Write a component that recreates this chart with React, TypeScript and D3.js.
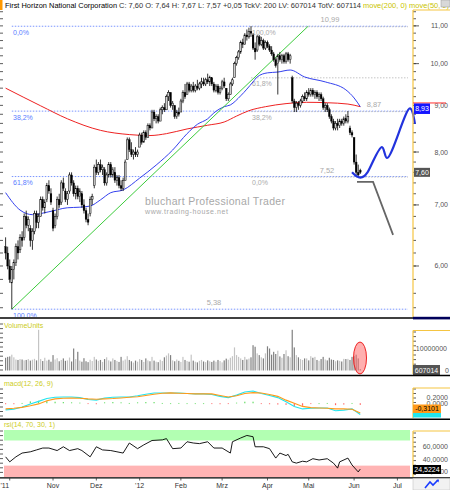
import React from 'react';
import * as d3 from 'd3';

// ---------------- data ----------------
const TITLE_NAME = 'First Horizon National Corporation';
const TITLE_QUOTE = 'C: 7,60 O: 7,64 H: 7,67 L: 7,57 +0,05 TckV: 200 LV: 607014 TotV: 607114';
const TITLE_STUDIES = 'move(200, 0) move(50, 0)';

const HOLIDAYS = ['2011-11-24', '2011-12-26', '2012-01-02', '2012-01-16', '2012-02-20', '2012-04-06', '2012-05-28', '2012-07-04'];
const MONTH_TICKS = ['2011-10', '2011-11', '2011-12', '2012-01', '2012-02', '2012-03', '2012-04', '2012-05', '2012-06', '2012-07'];
const MONTH_LABELS = ["'11", 'Nov', 'Dez', "'12", 'Feb', 'Mrz', 'Apr', 'Mai', 'Jun', 'Jul'];

const opens = [
  6.30, 6.20, 6.00, 5.75, 5.95, 6.05, 6.30, 6.25, 6.45, 6.45,
  6.80, 6.65, 6.60, 6.40, 6.55, 6.85, 6.70, 6.80, 7.10, 6.95,
  7.10, 7.35, 7.20, 6.90, 6.65, 6.80, 7.10, 7.05, 7.40, 7.25,
  7.10, 7.25, 7.55, 7.40, 7.20, 7.30, 7.15, 7.20, 7.00, 6.90,
  6.75, 6.85, 7.10, 7.35, 7.70, 7.60, 7.75, 7.65, 7.65, 7.40,
  7.55, 7.75, 7.55, 7.60, 7.45, 7.50, 7.35, 7.30, 7.45, 7.85,
  8.25, 8.05, 7.95, 8.00, 7.95, 8.10, 8.35, 8.20, 8.40, 8.30,
  8.55, 8.50, 8.85, 8.70, 8.75, 8.65, 8.90, 8.95, 8.90, 9.20,
  9.30, 9.00, 9.00, 8.75, 8.85, 8.85, 9.10, 9.30, 9.25, 9.50,
  9.35, 9.45, 9.35, 9.45, 9.40, 9.50, 9.55, 9.50, 9.60, 9.55,
  9.65, 9.50, 9.35, 9.45, 9.30, 9.40, 9.55, 9.40, 9.15, 9.25,
  9.50, 9.65, 10.00, 10.15, 10.30, 10.55, 10.50, 10.75, 10.70, 10.85,
  10.75, 10.40, 10.35, 10.70, 10.50, 10.60, 10.40, 10.55, 10.45, 10.35,
  10.25, 10.10, 10.00, 10.20, 10.10, 10.20, 10.05, 10.25, 10.10, 9.65,
  9.10, 8.95, 9.05, 9.00, 9.10, 9.20, 9.15, 9.30, 9.25, 9.35,
  9.25, 9.30, 9.20, 9.25, 9.15, 8.95, 9.00, 8.90, 8.75, 8.65,
  8.50, 8.60, 8.55, 8.65, 8.60, 8.70, 8.65, 8.50, 8.40, 8.30,
  7.80, 7.60, 7.64,
];
const highs = [
  6.45, 6.30, 6.10, 6.00, 6.10, 6.35, 6.40, 6.50, 6.55, 6.85,
  6.90, 6.80, 6.65, 6.60, 6.90, 6.90, 6.85, 7.15, 7.15, 7.10,
  7.40, 7.45, 7.30, 6.95, 6.85, 7.15, 7.20, 7.45, 7.50, 7.30,
  7.25, 7.60, 7.60, 7.45, 7.35, 7.35, 7.30, 7.25, 7.10, 6.95,
  6.85, 7.15, 7.20, 7.75, 7.85, 7.80, 7.85, 7.75, 7.70, 7.60,
  7.80, 7.80, 7.70, 7.70, 7.55, 7.55, 7.45, 7.50, 7.85, 8.30,
  8.30, 8.20, 8.05, 8.10, 8.05, 8.40, 8.40, 8.45, 8.45, 8.60,
  8.60, 8.90, 8.90, 8.80, 8.80, 8.95, 9.00, 9.05, 9.25, 9.35,
  9.30, 9.10, 9.00, 8.90, 8.95, 9.15, 9.35, 9.50, 9.55, 9.55,
  9.50, 9.55, 9.50, 9.60, 9.55, 9.65, 9.65, 9.65, 9.75, 9.70,
  9.65, 9.55, 9.50, 9.50, 9.45, 9.60, 9.65, 9.40, 9.30, 9.55,
  9.65, 10.05, 10.20, 10.35, 10.60, 10.65, 10.80, 10.90, 10.95, 10.99,
  10.80, 10.55, 10.75, 10.75, 10.70, 10.65, 10.60, 10.60, 10.50, 10.45,
  10.30, 10.15, 10.25, 10.30, 10.25, 10.25, 10.30, 10.30, 10.25, 9.70,
  9.15, 9.10, 9.10, 9.15, 9.25, 9.30, 9.35, 9.40, 9.40, 9.40,
  9.35, 9.35, 9.30, 9.30, 9.20, 9.05, 9.05, 8.95, 8.80, 8.70,
  8.65, 8.70, 8.70, 8.70, 8.75, 8.80, 8.87, 8.55, 8.45, 8.30,
  7.95, 7.75, 7.67,
];
const lows = [
  6.10, 5.95, 5.75, 5.38, 5.80, 6.00, 6.10, 6.20, 6.30, 6.40,
  6.60, 6.55, 6.30, 6.25, 6.50, 6.60, 6.60, 6.80, 6.90, 6.85,
  7.05, 7.20, 7.00, 6.55, 6.60, 6.75, 6.95, 7.00, 7.25, 7.05,
  7.00, 7.20, 7.35, 7.15, 7.10, 7.10, 7.05, 6.95, 6.85, 6.70,
  6.65, 6.80, 7.00, 7.30, 7.55, 7.55, 7.60, 7.55, 7.35, 7.35,
  7.50, 7.50, 7.50, 7.40, 7.35, 7.30, 7.25, 7.25, 7.45, 7.85,
  8.00, 7.90, 7.85, 7.90, 7.90, 8.10, 8.15, 8.20, 8.25, 8.30,
  8.45, 8.50, 8.65, 8.60, 8.60, 8.65, 8.80, 8.85, 8.90, 9.10,
  8.95, 8.90, 8.70, 8.70, 8.75, 8.85, 9.05, 9.15, 9.25, 9.30,
  9.30, 9.30, 9.30, 9.35, 9.35, 9.40, 9.45, 9.45, 9.50, 9.45,
  9.45, 9.30, 9.30, 9.25, 9.25, 9.35, 9.40, 9.10, 9.10, 9.25,
  9.45, 9.65, 9.95, 10.10, 10.25, 10.40, 10.50, 10.60, 10.65, 10.70,
  10.35, 10.10, 10.30, 10.45, 10.45, 10.35, 10.35, 10.40, 10.30, 10.20,
  10.05, 9.90, 9.25, 10.05, 10.00, 10.00, 10.00, 10.05, 10.00, 9.05,
  8.85, 8.85, 8.90, 8.95, 9.05, 9.10, 9.10, 9.20, 9.20, 9.20,
  9.15, 9.15, 9.10, 9.10, 8.90, 8.85, 8.85, 8.70, 8.60, 8.45,
  8.45, 8.45, 8.50, 8.55, 8.55, 8.60, 8.60, 8.35, 8.30, 7.75,
  7.55, 7.52, 7.57,
];
const closes = [
  6.20, 6.00, 5.80, 5.95, 6.05, 6.30, 6.20, 6.45, 6.40, 6.80,
  6.65, 6.75, 6.40, 6.55, 6.85, 6.70, 6.80, 7.10, 6.95, 7.05,
  7.35, 7.25, 7.05, 6.60, 6.80, 7.10, 7.00, 7.40, 7.30, 7.10,
  7.20, 7.55, 7.40, 7.20, 7.30, 7.15, 7.25, 7.00, 6.90, 6.75,
  6.70, 7.10, 7.15, 7.70, 7.60, 7.75, 7.65, 7.70, 7.40, 7.55,
  7.75, 7.55, 7.65, 7.45, 7.50, 7.35, 7.30, 7.45, 7.80, 8.25,
  8.05, 7.95, 8.00, 7.95, 8.00, 8.35, 8.20, 8.40, 8.30, 8.55,
  8.50, 8.85, 8.70, 8.75, 8.65, 8.90, 8.95, 8.90, 9.20, 9.30,
  9.00, 9.05, 8.75, 8.85, 8.80, 9.10, 9.30, 9.20, 9.50, 9.35,
  9.45, 9.35, 9.45, 9.40, 9.50, 9.55, 9.50, 9.60, 9.55, 9.65,
  9.50, 9.35, 9.45, 9.30, 9.40, 9.55, 9.45, 9.15, 9.25, 9.50,
  9.60, 10.00, 10.15, 10.30, 10.55, 10.50, 10.75, 10.70, 10.85, 10.80,
  10.40, 10.30, 10.70, 10.50, 10.60, 10.40, 10.55, 10.45, 10.35, 10.25,
  10.10, 9.95, 10.20, 10.10, 10.20, 10.05, 10.25, 10.10, 10.20, 9.10,
  8.95, 9.05, 9.00, 9.10, 9.20, 9.15, 9.30, 9.25, 9.35, 9.25,
  9.30, 9.20, 9.25, 9.15, 8.95, 9.00, 8.90, 8.75, 8.65, 8.50,
  8.60, 8.55, 8.65, 8.60, 8.70, 8.65, 8.75, 8.40, 8.35, 7.80,
  7.60, 7.55, 7.60,
];
// volume in millions of shares
const volumes = [
  5.8, 6.2, 6.4, 7.2, 6.0, 5.0, 4.8, 5.2, 5.0, 4.6,
  4.8, 5.2, 4.5, 4.9, 5.3, 4.6, 18.5, 5.2, 4.3, 5.8,
  4.5, 4.9, 4.0, 7.0, 5.0, 5.6, 4.2, 4.8, 5.5, 4.4,
  4.6, 5.9, 4.1, 10.0, 5.2, 8.5, 4.5, 4.0, 5.6, 4.2,
  3.8, 4.9, 4.3, 6.2, 5.0, 4.4, 4.8, 3.9, 5.2, 6.0,
  4.6, 4.1, 5.5, 4.8, 4.3, 3.9, 6.2, 4.5, 5.0, 6.5,
  4.8, 4.2, 3.6, 4.5, 4.0, 5.2, 4.8, 3.9, 5.5, 4.6,
  4.2, 6.2, 4.5, 4.0, 3.8, 4.9, 4.3, 6.0, 6.8, 7.8,
  7.0, 4.6, 4.2, 5.0, 4.4, 3.9, 6.2, 4.8, 4.3, 4.0,
  7.2, 4.5, 4.0, 3.7, 4.4, 4.8, 4.1, 3.8, 4.6, 4.2,
  3.9, 4.5, 4.0, 4.8, 4.3, 3.7, 4.6, 5.4, 4.9, 5.8,
  6.5, 10.5, 7.0, 6.2, 5.5, 4.8, 6.2, 5.0, 5.4, 6.0,
  11.5, 10.8, 7.8, 7.0, 6.0, 5.5, 7.8, 11.0, 10.0, 7.2,
  8.5, 7.5, 9.0, 6.4, 5.8, 7.5, 9.2, 6.5, 6.0, 18.5,
  10.5, 7.0, 6.0, 5.2, 4.8, 5.5, 5.5, 4.6, 6.5, 5.8,
  6.2, 4.8, 4.4, 5.2, 6.2, 5.0, 4.6, 5.8, 5.0, 4.8,
  4.2, 4.6, 4.4, 4.1, 5.3, 5.2, 5.3, 4.8, 6.2, 6.5,
  7.2, 5.5, 0.607014,
];

// moving averages, read at bar positions
const ma200Bars = [0, 17, 30, 46, 60, 70, 78, 88, 98, 106, 112, 118, 126, 136, 146, 156, 166, 172];
const ma200Vals = [9.40, 8.99, 8.70, 8.45, 8.36, 8.34, 8.38, 8.48, 8.56, 8.63, 8.76, 8.88, 8.97, 9.04, 9.07, 9.06, 9.03, 8.97];
const ma50Bars = [0, 7, 13, 21, 30, 36, 41, 46, 51, 57, 65, 73, 81, 88, 93, 98, 101, 106, 109, 114, 120, 122, 127, 132, 138, 145, 155, 165, 169, 172];
const ma50Vals = [7.22, 6.91, 6.83, 6.88, 6.95, 6.96, 6.98, 7.09, 7.22, 7.27, 7.49, 7.74, 8.04, 8.38, 8.58, 8.70, 8.83, 8.97, 9.01, 9.22, 9.55, 9.67, 9.77, 9.79, 9.84, 9.67, 9.55, 9.36, 9.17, 8.97];

// trend line and Fibonacci levels
const trendBars = [3, 146.7];
const trendVals = [5.38, 10.99];
const fibBlueLabels = ['0,0%', '38,2%', '61,8%', '100,0%'];
const fibBlueVals = [10.99, 8.87, 7.52, 5.38];
const fibGrayLabels = ['100,0%', '61,8%', '38,2%', '0,0%'];
const fibGrayVals = [10.99, 9.66, 8.87, 7.52];
const fibPriceLabels = ['10,99', '8,87', '7,52', '5,38'];
const fibPriceVals = [10.99, 8.87, 7.52, 5.38];

// projection paths
const projBlueBars = [168, 170, 172, 174, 175.5, 182.5, 185, 196.1, 198.5];
const projBlueVals = [7.60, 7.53, 7.50, 7.53, 7.60, 8.10, 7.88, 8.93, 8.59];
const projGrayBars = [170.4, 178.2, 187.9];
const projGrayVals = [7.42, 7.42, 6.49];

// MACD(12,26,9)
const macdBars = [0, 4, 8, 12, 16, 20, 24, 28, 32, 36, 40, 44, 48, 52, 56, 60, 64, 68, 72, 76, 80, 84, 88, 92, 96, 100, 104, 108, 112, 116, 120, 124, 128, 132, 136, 140, 144, 148, 152, 156, 160, 164, 168, 172];
const macdVals = [-0.21, -0.19, -0.12, -0.02, 0.06, 0.15, 0.19, 0.20, 0.20, 0.18, 0.12, 0.10, 0.17, 0.19, 0.20, 0.20, 0.24, 0.29, 0.33, 0.33, 0.33, 0.33, 0.31, 0.30, 0.30, 0.28, 0.22, 0.18, 0.26, 0.36, 0.39, 0.31, 0.25, 0.18, 0.05, -0.10, -0.18, -0.16, -0.15, -0.15, -0.24, -0.22, -0.18, -0.36];
const signalVals = [-0.18, -0.16, -0.13, -0.08, -0.02, 0.08, 0.14, 0.16, 0.17, 0.16, 0.14, 0.13, 0.14, 0.15, 0.17, 0.19, 0.21, 0.25, 0.29, 0.32, 0.33, 0.32, 0.31, 0.30, 0.30, 0.30, 0.25, 0.20, 0.24, 0.31, 0.34, 0.33, 0.28, 0.22, 0.10, 0.00, -0.10, -0.14, -0.15, -0.16, -0.18, -0.18, -0.19, -0.31];

// RSI(14)
const rsiBars = [0, 2, 5, 8, 12, 15, 18, 21, 25, 28, 31, 35, 37, 41, 44, 47, 51, 54, 57, 60, 64, 67, 71, 76, 78, 81, 85, 88, 91, 94, 98, 101, 105, 109, 110, 114, 117, 120, 121, 125, 128, 131, 133, 136, 137, 139, 141, 144, 146, 149, 152, 156, 159, 161, 162, 166, 168, 171, 172];
const rsiVals = [44, 36, 44, 50, 52, 55, 58, 58, 54, 60, 54, 57, 54, 44, 60, 55, 54, 52, 50, 66, 57, 63, 70, 71, 73, 57, 58, 68, 66, 65, 68, 58, 58, 50, 68, 74, 78, 76, 60, 60, 57, 42, 50, 46, 48, 36, 34, 37, 36, 41, 39, 41, 34, 26, 36, 42, 31, 20, 24.52];

const priceTicks = [6, 7, 8, 9, 10, 11];
const priceTickLabels = ['6,00', '7,00', '8,00', '9,00', '10,00', '11,00'];
const rsiTicks = [60, 40, 20];
const rsiTickLabels = ['60,0000', '40,0000', '20,0000'];
const macdTicks = [0.2, 0];
const macdTickLabels = ['0,2000', '0,0000'];

// ---------------- layout ----------------
const FONT = '"Liberation Sans", Arial, sans-serif';
const PL = 4, PR = 412, AX = 413;
const MAIN = { top: 10, bottom: 317 };
const VOL = { top: 321, base: 370.5 };
const MACD = { top: 376, bottom: 418 };
const RSI = { top: 430, bottom: 477 };

function buildDates(n: number) {
  const out: Date[] = [];
  const d = new Date(Date.UTC(2011, 8, 29));
  while (out.length < n) {
    const wd = d.getUTCDay();
    const iso = d.toISOString().slice(0, 10);
    if (wd !== 0 && wd !== 6 && !HOLIDAYS.includes(iso)) out.push(new Date(d));
    d.setUTCDate(d.getUTCDate() + 1);
  }
  return out;
}

export default function App() {
  const dates = buildDates(200);
  const x = d3.scaleLinear().domain([0, 190]).range([5.6, 397.4]);
  const y = d3.scaleLog().domain([5.275, 11.45]).range([MAIN.bottom, MAIN.top]);
  const yVol = d3.scaleLinear().domain([0, 22.5]).range([VOL.base, VOL.top]);
  const yMacd = d3.scaleLinear().domain([-0.47, 0.87]).range([MACD.bottom, MACD.top]);
  const yRsi = d3.scaleLinear().domain([11.9, 86.7]).range([RSI.bottom, RSI.top]);

  const pts = (bars: number[], vals: number[]) => bars.map((b, i) => [b, vals[i]] as [number, number]);
  const priceLine = d3.line<[number, number]>().x(d => x(d[0])).y(d => y(d[1]));
  const smoothPrice = d3.line<[number, number]>().x(d => x(d[0])).y(d => y(d[1])).curve(d3.curveMonotoneX);
  const macdLine = d3.line<[number, number]>().x(d => x(d[0])).y(d => yMacd(d[1]));
  const rsiLine = d3.line<[number, number]>().x(d => x(d[0])).y(d => yRsi(d[1]));
  const projBlue = d3.line<[number, number]>().x(d => x(d[0])).y(d => y(d[1])).curve(d3.curveCatmullRom.alpha(0.5));

  const minorTicks = d3.range(5.4, 11.41, 0.2);
  const tickStr = '#333';

  const monthPos = MONTH_TICKS.map(m => {
    const k = dates.findIndex(d => d.toISOString().slice(0, 7) === m);
    return x(k);
  });

  const fibStartBlue = x(3);
  const fibStartGray = x(119);
  const fibEnd = 408;

  const grayLabelX = [330, 374, 327, 214];

  const dashes = (y0: number, y1: number, step: number, x0: number, x1: number, key: string) =>
    d3.range(y0, y1, step).map((v, i) => <line key={key + i} x1={x0} x2={x1} y1={v} y2={v} stroke={tickStr} strokeWidth={0.8} />);

  return (
    <svg width={450} height={490} style={{ position: 'absolute', left: 0, top: 0, background: '#fff' }} fontFamily={FONT}>
      <rect x={0} y={0} width={450} height={490} fill="#fff" />
      <defs>
        <clipPath id="mainClip"><rect x={PL} y={MAIN.top} width={PR - PL} height={MAIN.bottom - MAIN.top} /></clipPath>
      </defs>

      {/* title */}
      <rect x={0} y={0} width={2.5} height={10} fill="#ff9900" />
      <text x={5} y={7.5} fontSize={7.3} fill="#000" textLength={112} lengthAdjust="spacingAndGlyphs">{TITLE_NAME}</text>
      <text x={119} y={7.5} fontSize={7.3} fill="#333" textLength={242} lengthAdjust="spacingAndGlyphs">{TITLE_QUOTE}</text>
      <text x={363} y={7.5} fontSize={7.3} fill="#c9c400" textLength={86} lengthAdjust="spacingAndGlyphs">{TITLE_STUDIES}</text>
      <rect x={441} y={0} width={9} height={7} fill="#d8d8d8" stroke="#999" strokeWidth={0.5} />

      {/* ---------- main panel ---------- */}
      {minorTicks.map((p, i) => (
        <line key={'lt' + i} x1={0} x2={3} y1={y(p)} y2={y(p)} stroke={tickStr} strokeWidth={0.8} />
      ))}
      {minorTicks.map((p, i) => (
        <line key={'rt' + i} x1={AX} x2={416} y1={y(p)} y2={y(p)} stroke={tickStr} strokeWidth={0.8} />
      ))}
      {priceTicks.map((p, i) => (
        <g key={'pt' + i}>
          <line x1={AX} x2={419} y1={y(p)} y2={y(p)} stroke={tickStr} strokeWidth={0.8} />
          <text x={448} y={y(p) + 2.5} fontSize={7} fill="#555" textAnchor="end">{priceTickLabels[i]}</text>
        </g>
      ))}

      <g clipPath="url(#mainClip)">
        {/* watermark */}
        <text x={145} y={205} fontSize={10.5} fill="#a8a8a8" textLength={140} lengthAdjust="spacing">bluchart Professional Trader</text>
        <text x={145} y={214} fontSize={7} fill="#a8a8a8" textLength={83} lengthAdjust="spacing">www.trading-house.net</text>

        {/* fib lines */}
        {fibBlueVals.map((p, i) => (
          <line key={'fb' + i} x1={fibStartBlue} x2={fibEnd} y1={y(p)} y2={y(p)} stroke="#7a95ff" strokeWidth={1} strokeDasharray="1.5,1.5" />
        ))}
        {fibGrayVals.map((p, i) => (
          <line key={'fg' + i} x1={fibStartGray} x2={fibEnd} y1={y(p) + 0.5} y2={y(p) + 0.5} stroke="#c4c4c4" strokeWidth={1} strokeDasharray="1.5,1.5" />
        ))}
        {fibBlueVals.map((p, i) => (
          <text key={'fbl' + i} x={13} y={y(p) + 8.5} fontSize={7} fill="#5a7dff">{fibBlueLabels[i]}</text>
        ))}
        {fibGrayVals.map((p, i) => (
          <text key={'fgl' + i} x={252} y={y(p) + 8.5} fontSize={7} fill="#aaa">{fibGrayLabels[i]}</text>
        ))}
        {fibPriceVals.map((p, i) => (
          <text key={'fpl' + i} x={grayLabelX[i]} y={y(p) - 4} fontSize={7.5} fill="#aaa" textAnchor="middle">{fibPriceLabels[i]}</text>
        ))}

        {/* moving averages & trend */}
        <path d={smoothPrice(pts(ma200Bars, ma200Vals)) || ''} fill="none" stroke="#ee2222" strokeWidth={1} />
        <path d={smoothPrice(pts(ma50Bars, ma50Vals)) || ''} fill="none" stroke="#3340ee" strokeWidth={1} />
        <path d={priceLine(pts(trendBars, trendVals)) || ''} fill="none" stroke="#3ccc3c" strokeWidth={1} />

        {/* candles */}
        {closes.map((c, k) => {
          const o = opens[k];
          const up = c >= o;
          const cx = x(k);
          const yt = y(Math.max(o, c));
          const yb = y(Math.min(o, c));
          return (
            <g key={'c' + k}>
              <line x1={cx} x2={cx} y1={y(highs[k])} y2={y(lows[k])} stroke="#000" strokeWidth={0.8} />
              <rect x={cx - 0.9} y={yt} width={1.8} height={Math.max(0.8, yb - yt)} fill={up ? '#cfcfcf' : '#000'} stroke="#000" strokeWidth={up ? 0.5 : 0.3} />
            </g>
          );
        })}

        {/* projections */}
        <path d={priceLine(pts(projGrayBars, projGrayVals)) || ''} fill="none" stroke="#666" strokeWidth={1.8} />
      </g>
      <path d={projBlue(pts(projBlueBars, projBlueVals)) || ''} fill="none" stroke="#2233dd" strokeWidth={2.2} />

      {/* main axis line & boxes */}
      <line x1={AX} x2={AX} y1={MAIN.top} y2={MAIN.bottom} stroke="#f5c542" strokeWidth={1.2} />
      <line x1={AX} x2={450} y1={MAIN.top} y2={MAIN.top} stroke="#f5c542" strokeWidth={1.2} />
      <line x1={AX} x2={446} y1={y(8.93) - 5.5} y2={y(8.93) - 5.5} stroke="#ff3030" strokeWidth={1} />
      <rect x={414} y={y(8.93) - 5} width={16} height={10.5} fill="#1414ff" />
      <text x={422} y={y(8.93) + 3} fontSize={7} fill="#fff" textAnchor="middle">8,93</text>
      <rect x={414} y={y(7.60) - 4.5} width={16} height={9} fill="#555" />
      <text x={422} y={y(7.60) + 2.5} fontSize={7} fill="#fff" textAnchor="middle">7,60</text>

      {/* separator */}
      <line x1={0} x2={AX} y1={318} y2={318} stroke="#000" strokeWidth={1.6} />
      <rect x={AX} y={316.8} width={37} height={2.6} fill="#00005a" />

      {/* ---------- volume ---------- */}
      <text x={4} y={328} fontSize={7} fill="#cccc22">VolumeUnits</text>
      {dashes(324, 372, 4.6, 0, 3, 'vl')}
      {dashes(332, 372, 4.6, AX, 416, 'vr')}
      <line x1={AX} x2={AX} y1={330.5} y2={374} stroke="#f5c542" strokeWidth={1.2} />
      <line x1={AX} x2={450} y1={330.5} y2={330.5} stroke="#f5c542" strokeWidth={1.2} />
      {volumes.map((v, k) => (
        <rect key={'v' + k} x={x(k) - 0.6} y={yVol(v)} width={1.2} height={VOL.base - yVol(v)} fill={closes[k] >= opens[k] ? '#c4c4c4' : '#808080'} />
      ))}
      <ellipse cx={360} cy={358} rx={6.5} ry={16} fill="rgba(255,110,110,0.55)" stroke="#ee2222" strokeWidth={1} />
      <text x={447} y={yVol(10) + 2.5} fontSize={7} fill="#555" textAnchor="end">10000000</text>
      <text x={449} y={VOL.base + 2.5} fontSize={7} fill="#555" textAnchor="end">0</text>
      <rect x={AX} y={365} width={27} height={10} fill="#555" />
      <text x={426.5} y={372.5} fontSize={7} fill="#fff" textAnchor="middle">607014</text>

      <line x1={0} x2={450} y1={375.5} y2={375.5} stroke="#000" strokeWidth={1.6} />

      {/* ---------- MACD ---------- */}
      <text x={4} y={385.5} fontSize={7} fill="#cccc22">macd(12, 26, 9)</text>
      {dashes(389, 418, 4.5, 0, 3, 'ml')}
      {dashes(389, 418, 4.5, AX, 416, 'mr')}
      <line x1={AX} x2={AX} y1={388} y2={MACD.bottom} stroke="#f5c542" strokeWidth={1.2} />
      <line x1={AX} x2={450} y1={388} y2={388} stroke="#f5c542" strokeWidth={1.2} />
      {macdBars.map((b, i) => {
        const h = macdVals[i] - signalVals[i];
        return <rect key={'h' + i} x={x(b) - 0.6} y={Math.min(yMacd(0), yMacd(h))} width={1.2} height={Math.max(0.8, Math.abs(yMacd(h) - yMacd(0)))} fill={h >= 0 ? '#66dd66' : '#ff6666'} />;
      })}
      <path d={macdLine(pts(macdBars, macdVals)) || ''} fill="none" stroke="#22e5ee" strokeWidth={1.1} />
      <path d={macdLine(pts(macdBars, signalVals)) || ''} fill="none" stroke="#ff9a1a" strokeWidth={1.1} />
      {macdTicks.map((t, i) => (
        <text key={'mt' + i} x={448} y={yMacd(t) + 2.5} fontSize={7} fill="#555" textAnchor="end">{macdTickLabels[i]}</text>
      ))}
      <rect x={AX} y={412.5} width={28} height={5} fill="#22e5ee" />
      <rect x={AX} y={404.5} width={28} height={8.5} fill="#ff9a1a" />
      <text x={427} y={411.3} fontSize={7} fill="#000" textAnchor="middle">-0,3101</text>

      <line x1={0} x2={450} y1={419.2} y2={419.2} stroke="#000" strokeWidth={1.6} />

      {/* ---------- RSI ---------- */}
      <text x={4} y={427} fontSize={7} fill="#cccc22">rsi(14, 70, 30, 1)</text>
      <rect x={PL} y={yRsi(86.7)} width={406} height={yRsi(70) - yRsi(86.7)} fill="#b2ffb2" />
      <rect x={PL} y={yRsi(30)} width={406} height={yRsi(11.9) - yRsi(30)} fill="#ffb4b4" />
      {dashes(431, 477, 4.6, 0, 3, 'rl')}
      {dashes(433, 477, 4.6, AX, 416, 'rr')}
      <line x1={AX} x2={AX} y1={431} y2={RSI.bottom} stroke="#f5c542" strokeWidth={1.2} />
      <line x1={AX} x2={450} y1={431} y2={431} stroke="#f5c542" strokeWidth={1.2} />
      <path d={rsiLine(pts(rsiBars, rsiVals)) || ''} fill="none" stroke="#000" strokeWidth={0.9} />
      {rsiTicks.map((t, i) => (
        <text key={'rt' + i} x={448} y={yRsi(t) + 2.5} fontSize={7} fill="#555" textAnchor="end">{rsiTickLabels[i]}</text>
      ))}
      <rect x={AX} y={465} width={28} height={9} fill="#000" />
      <text x={427} y={472} fontSize={7} fill="#fff" textAnchor="middle">24,5224</text>

      <line x1={0} x2={450} y1={477.8} y2={477.8} stroke="#000" strokeWidth={1.2} />

      {/* ---------- time axis ---------- */}
      {monthPos.map((mx, i) => (
        <g key={'mx' + i}>
          <line x1={mx} x2={mx} y1={478} y2={480.5} stroke="#333" strokeWidth={0.8} />
          <text x={i === 0 ? 0.5 : mx} y={487.5} fontSize={7} fill="#333" textAnchor={i === 0 ? 'start' : 'middle'}>{MONTH_LABELS[i]}</text>
        </g>
      ))}
      <rect x={413} y={478.5} width={37} height={11.5} fill="#f2f2f2" stroke="#bbb" strokeWidth={0.5} />
      <path d="M425,488 L430,482 L433,485 L438,480" fill="none" stroke="#1a3cff" strokeWidth={1.6} />
      <path d="M436,480 L439,479.5 L438.5,482.5 Z" fill="#1a3cff" />
    </svg>
  );
}
